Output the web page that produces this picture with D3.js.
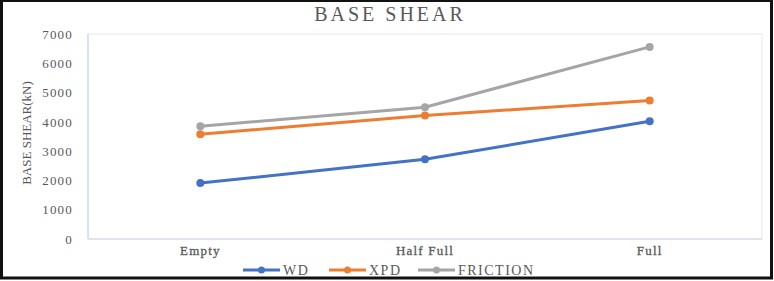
<!DOCTYPE html>
<html>
<head>
<meta charset="utf-8">
<script src="https://cdn.jsdelivr.net/npm/d3@7"></script>
<style>
  body { margin: 0; background: #fff; }
  svg { display: block; }
</style>
</head>
<body>
<svg id="chart" width="774" height="281"></svg>
<script>
// chart data
var categories = ["Empty", "Half Full", "Full"];
var wdValues = [1910, 2720, 4020];
var xpdValues = [3580, 4220, 4730];
var frictionValues = [3850, 4500, 6560];
var yTicks = [0, 1000, 2000, 3000, 4000, 5000, 6000, 7000];

var series = [
    { name: "WD", values: wdValues, color: "#4472C4" },
    { name: "XPD", values: xpdValues, color: "#ED7D31" },
    { name: "FRICTION", values: frictionValues, color: "#A5A5A5" }
];

var svg = d3.select("#chart"),
    width = 774,
    height = 281,
    margin = { top: 34, right: 12, bottom: 42, left: 88 },
    plotW = width - margin.left - margin.right,
    plotH = height - margin.top - margin.bottom;

// outer frame
svg.append("rect")
    .attr("x", 1.5).attr("y", 0.5)
    .attr("width", width - 4).attr("height", height - 3.5)
    .attr("fill", "#fff")
    .attr("stroke", "#111").attr("stroke-width", 3);

var g = svg.append("g").attr("transform", `translate(${margin.left},${margin.top})`);

var xScale = d3.scaleBand().domain(categories).range([0, plotW]);
var yScale = d3.scaleLinear().domain([0, 7000]).range([plotH, 0]);

// plot area border
g.append("rect")
    .attr("width", plotW).attr("height", plotH)
    .attr("fill", "none")
    .attr("stroke", "#e3e8f2").attr("stroke-width", 1);

g.append("line")
    .attr("x1", 0).attr("x2", 0).attr("y1", 0).attr("y2", plotH)
    .attr("stroke", "#d2dcee").attr("stroke-width", 1.5);
g.append("line")
    .attr("x1", 0).attr("x2", plotW).attr("y1", plotH).attr("y2", plotH)
    .attr("stroke", "#d9deea").attr("stroke-width", 1.5);

// y axis labels
var yAxis = d3.axisLeft(yScale).tickValues(yTicks).tickFormat(d3.format("d")).tickSize(0).tickPadding(15);
g.append("g").call(yAxis)
    .call(a => a.select(".domain").remove())
    .selectAll("text")
    .attr("font-family", "Liberation Serif, serif")
    .attr("font-size", 13)
    .attr("letter-spacing", 1.2)
    .attr("fill", "#595959");

// x axis labels
var xAxis = d3.axisBottom(xScale).tickSize(0).tickPadding(7);
g.append("g").attr("transform", `translate(0,${plotH})`).call(xAxis)
    .call(a => a.select(".domain").remove())
    .selectAll("text")
    .attr("font-family", "Liberation Serif, serif")
    .attr("font-size", 13)
    .attr("letter-spacing", 1.2)
    .attr("stroke", "#595959").attr("stroke-width", 0.3)
    .attr("fill", "#595959");

// lines + markers
var line = d3.line()
    .x((d, i) => xScale(categories[i]) + xScale.bandwidth() / 2)
    .y(d => yScale(d));

series.forEach(s => {
    g.append("path")
        .datum(s.values)
        .attr("d", line)
        .attr("fill", "none")
        .attr("stroke", s.color)
        .attr("stroke-width", 3)
        .attr("stroke-linecap", "round");
    g.selectAll(null)
        .data(s.values)
        .enter()
        .append("circle")
        .attr("cx", (d, i) => xScale(categories[i]) + xScale.bandwidth() / 2)
        .attr("cy", d => yScale(d))
        .attr("r", 4)
        .attr("fill", s.color);
});

// title
svg.append("text")
    .attr("x", 390).attr("y", 21)
    .attr("text-anchor", "middle")
    .attr("font-family", "Liberation Serif, serif")
    .attr("font-size", 20)
    .attr("letter-spacing", 3)
    .attr("fill", "#595959")
    .text("BASE SHEAR");

// y axis title
svg.append("text")
    .attr("transform", "translate(31,133) rotate(-90)")
    .attr("text-anchor", "middle")
    .attr("font-family", "Liberation Serif, serif")
    .attr("font-size", 13)
    .attr("fill", "#595959")
    .text("BASE  SHEAR(kN)");

// legend
var legendX = [243, 329, 418];
var legend = svg.append("g").attr("transform", "translate(0,270)");
series.forEach((s, i) => {
    var lg = legend.append("g").attr("transform", `translate(${legendX[i]},0)`);
    lg.append("line")
        .attr("x1", 0).attr("x2", 37).attr("y1", 0).attr("y2", 0)
        .attr("stroke", s.color).attr("stroke-width", 3);
    lg.append("circle").attr("cx", 18.5).attr("cy", 0).attr("r", 3.5).attr("fill", s.color);
    lg.append("text")
        .attr("x", 40).attr("y", 5)
        .attr("font-family", "Liberation Serif, serif")
        .attr("font-size", 14)
        .attr("letter-spacing", 1.5)
        .attr("fill", "#595959")
        .text(s.name);
});
</script>
</body>
</html>
